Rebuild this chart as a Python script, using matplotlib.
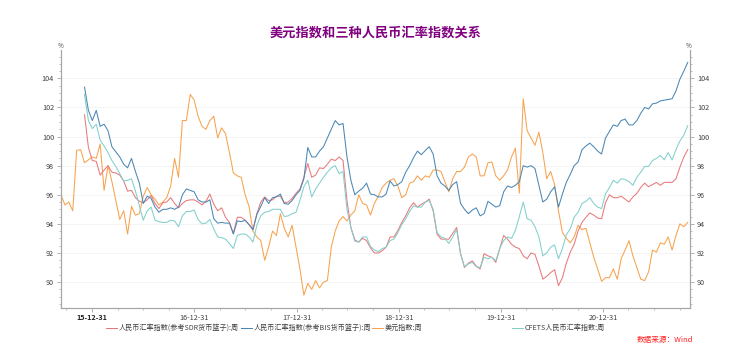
import matplotlib
matplotlib.use("Agg")
import matplotlib.pyplot as plt
import matplotlib.dates as mdates
from matplotlib.ticker import MultipleLocator, FixedLocator, FixedFormatter
import numpy as np
import pandas as pd

plt.rcParams['font.family'] = ['Noto Sans CJK SC', 'DejaVu Sans']

# ---------------- data (biweekly) ----------------
start_date = '2015-09-11'
n_points = 161
nan = np.nan

usd_index = [
    96.0, 95.3, 95.5, 94.9, 99.05, 99.1, 98.2, 98.4, 98.6, 98.5,
    99.5, 96.3, 98.0, 96.9, 95.6, 94.3, 94.9, 93.3, 95.2, 94.6,
    94.7, 95.9, 96.5, 96.0, 95.7, 95.3, 95.5, 95.8, 96.6, 98.5,
    97.2, 101.1, 101.1, 102.9, 102.5, 101.4, 100.7, 100.5, 101.1, 101.4,
    99.9, 100.6, 100.2, 98.9, 97.5, 97.3, 97.2, 96.0, 95.2, 93.5,
    93.1, 92.85, 91.5, 92.4, 93.5, 93.2, 94.7, 93.7, 93.1, 93.9,
    92.4, 90.9, 89.1, 89.9, 89.5, 90.1, 89.6, 90.0, 90.1, 92.4,
    93.5, 94.2, 94.5, 94.2, 94.6, 94.9, 96.0, 95.4, 95.3, 94.6,
    95.4, 95.9, 96.5, 96.8, 97.0, 97.1, 96.6, 95.8, 96.0, 96.8,
    96.9, 97.3, 97.0, 97.3, 97.2, 97.7, 97.7, 97.6, 96.9, 96.2,
    97.1, 97.6, 97.6, 97.9, 98.6, 98.8, 98.6, 97.3, 97.3, 98.2,
    98.25, 97.3, 97.0, 97.3, 97.7, 98.6, 99.2, 96.1, 102.6, 100.4,
    99.9, 99.4, 100.3, 98.9, 97.1, 97.6, 96.7, 94.9, 93.4, 93.0,
    92.7, 93.1, 93.9, 93.6, 93.7, 92.7, 91.7, 90.9, 90.05, 90.3,
    90.3, 90.9, 90.2, 91.6, 92.2, 92.85, 91.8, 91.0, 90.2, 90.1,
    90.7, 92.2, 92.05, 92.7, 92.6, 93.1, 92.2, 93.2, 94.0, 93.8,
    94.1,
]

rmb_bis = [nan] * 6 + [
    103.4, 101.8, 101.1, 101.8,
    100.7, 100.85, 100.4, 99.3, 98.95, 98.6, 98.1, 97.85, 98.5, 97.6,
    96.8, 95.4, 95.9, 95.75, 95.15, 94.8, 95.0, 95.0, 95.1, 95.0,
    95.15, 96.0, 96.4, 96.3, 96.2, 95.65, 95.5, 95.5, 95.65, 94.35,
    94.05, 94.1, 94.05, 94.05, 93.3, 94.2, 94.15, 94.25, 93.95, 93.6,
    94.65, 95.2, 95.8, 95.4, 95.8, 95.85, 96.05, 95.4, 95.35, 95.6,
    96.0, 96.3, 97.1, 99.25, 98.6, 98.6, 99.0, 99.3, 99.9, 100.5,
    101.1, 100.8, 100.9, 98.6, 97.0, 96.0, 96.25, 96.45, 96.8, 96.05,
    96.0, 95.85, 95.85, 96.05, 96.95, 96.6, 96.7, 96.9, 97.55, 98.0,
    98.55, 99.0, 98.75, 99.05, 99.3, 98.8, 97.3, 96.8, 96.6, 96.3,
    96.7, 96.9, 95.4, 95.0, 94.7, 94.95, 95.1, 94.55, 94.7, 95.55,
    95.35, 95.15, 95.25, 96.2, 96.6, 96.5, 96.65, 96.9, 98.0, 97.9,
    98.0, 97.8, 96.65, 95.5, 95.7, 96.2, 96.55, 95.15, 96.05, 96.85,
    97.4, 98.0, 98.25, 99.1, 99.35, 99.55, 99.3, 99.0, 98.8, 99.9,
    100.35, 100.8, 100.7, 101.1, 101.2, 100.8, 100.8, 101.1, 101.6, 102.0,
    101.9, 102.25, 102.3, 102.45, 102.5, 102.55, 102.6, 103.15, 103.95, 104.5,
    105.1,
]

rmb_cfets = [nan] * 6 + [
    102.9, 101.1, 100.55, 100.85,
    99.75, 99.35, 98.9, 98.35, 97.95, 97.45, 96.95, 97.0, 97.1, 96.25,
    95.25, 94.25, 94.9, 95.15, 94.25, 94.15, 94.1, 94.1, 94.25, 94.2,
    93.8, 94.55, 94.85, 94.85, 94.95, 94.3, 94.0, 94.05, 94.3, 93.65,
    93.1, 93.05, 92.95, 92.65, 92.3, 93.2, 93.3, 93.3, 93.1, 92.75,
    93.9, 94.55, 94.8, 94.85, 95.0, 95.0, 95.0, 94.5, 94.55, 94.7,
    94.8, 95.6, 96.55, 97.0, 95.85, 96.4, 96.8, 97.2, 97.55, 97.85,
    98.0, 97.45, 97.6, 95.0, 93.75, 92.8, 92.75, 93.1, 93.1, 92.45,
    92.2, 92.1, 92.3, 92.4, 92.85, 92.95, 93.4, 93.95, 94.35, 94.85,
    95.25, 95.15, 95.15, 95.5, 95.6, 95.0, 93.4, 93.1, 93.0, 92.65,
    93.1, 93.6, 91.95, 91.05, 91.25, 91.35, 91.05, 91.0, 91.7, 91.6,
    91.7, 91.45, 92.3, 92.85, 93.1, 93.0, 93.55, 94.5, 95.5, 94.35,
    94.25, 93.8, 93.1, 91.8, 92.0, 92.4, 92.55, 91.6, 92.3, 93.25,
    93.65, 94.45, 94.8, 95.4, 95.55, 95.8, 95.4, 95.15, 95.05, 96.05,
    96.5, 97.0, 96.8, 97.1, 97.05, 96.9, 96.65, 97.2, 97.55, 97.95,
    97.95, 98.35, 98.5, 98.7, 98.4, 98.9, 98.4, 99.1, 99.7, 100.1,
    100.75,
]

rmb_sdr = [nan] * 6 + [
    101.5, 99.25, 98.35, 98.3,
    97.35, 97.7, 98.0, 97.55, 97.5, 97.35, 96.95, 96.25, 96.3, 95.8,
    95.55, 95.45, 95.65, 95.95, 95.4, 95.05, 95.45, 95.5, 95.8, 95.4,
    95.1, 95.4, 95.6, 95.65, 95.65, 95.5, 95.3, 95.55, 96.05, 95.35,
    94.9, 95.1, 94.45, 94.1, 93.35, 94.45, 94.45, 94.25, 93.95, 93.6,
    94.7, 95.5, 95.85, 95.6, 95.65, 95.9, 95.9, 95.45, 95.5, 95.75,
    96.1, 96.4, 97.2, 98.15, 97.2, 97.35, 97.85, 97.8, 98.1, 98.45,
    98.35, 98.6, 98.35, 95.6, 93.75, 92.9, 92.75, 93.0, 92.85, 92.35,
    92.0, 92.0, 92.15, 92.4, 93.1, 93.1, 93.55, 94.1, 94.55, 95.1,
    95.45, 95.15, 95.35, 95.5, 95.7, 94.9, 93.3, 92.95, 92.95, 92.95,
    93.35, 93.75, 91.95, 91.0, 91.3, 91.45, 91.1, 90.9, 91.95, 91.8,
    91.7, 91.35, 92.3, 93.2, 92.95, 92.6, 92.4, 92.3, 91.8, 91.6,
    92.0, 91.9, 91.1, 90.2, 90.4, 90.65, 90.85, 89.75, 90.3, 91.3,
    92.05, 92.6, 93.5, 94.1, 94.45, 94.75, 94.6, 94.4, 94.35, 95.45,
    96.0, 95.8, 95.8, 95.9, 95.7, 95.5, 95.85, 96.1, 96.5, 96.8,
    96.55, 96.7, 96.85, 96.65, 96.85, 96.85, 96.85, 97.1, 97.9, 98.6,
    99.1,
]

series_names = [
    '人民币汇率指数(参考SDR货币篮子):周',
    '人民币汇率指数(参考BIS货币篮子):周',
    '美元指数:周',
    'CFETS人民币汇率指数:周',
]
series_colors = ['#E8797B', '#4A87B5', '#F7A24E', '#82CFCC']
x_tick_labels = ['15-12-31', '16-12-31', '17-12-31', '18-12-31', '19-12-31', '20-12-31']
y_ticks = [90, 92, 94, 96, 98, 100, 102, 104]
title = '美元指数和三种人民币汇率指数关系'
source = '数据来源：Wind'

# ---------------- figure ----------------
W, H = 735, 356
fig = plt.figure(figsize=(W / 100, H / 100), dpi=100)
L, R, B, T = 61, 690, 307.5, 50
ax = fig.add_axes([L / W, 1 - B / H, (R - L) / W, (B - T) / H])

dates = pd.date_range(start_date, periods=n_points, freq='14D')
values = [rmb_sdr, rmb_bis, usd_index, rmb_cfets]
zorders = [3, 4, 2, 3]
lines = []
for name, col, vals, z in zip(series_names, series_colors, values, zorders):
    ln, = ax.plot(dates, vals, color=col, lw=0.75, label=name, zorder=z)
    lines.append(ln)

ax.set_xlim(pd.Timestamp('2015-09-11'), pd.Timestamp('2021-11-06'))
ylim = (88.25, 105.95)
ax.set_ylim(*ylim)

axis_col = '#A6A6A6'
text_col = '#404040'

# y axes
ax.yaxis.set_major_locator(FixedLocator(y_ticks))
ax.yaxis.set_minor_locator(MultipleLocator(0.5))
ax.grid(axis='y', which='major', color='#F3F3F3', lw=0.6, zorder=0)
ax.set_axisbelow(True)

ax2 = ax.twinx()
ax2.set_ylim(*ylim)
ax2.yaxis.set_major_locator(FixedLocator(y_ticks))
ax2.yaxis.set_minor_locator(MultipleLocator(0.5))

for a in (ax, ax2):
    a.spines['top'].set_visible(False)
    for s in ('left', 'right', 'bottom'):
        a.spines[s].set_color(axis_col)
        a.spines[s].set_linewidth(0.8)
    a.tick_params(axis='y', which='major', length=3, width=0.6, color=axis_col,
                  labelsize=5.2, labelcolor=text_col, pad=2)
    a.tick_params(axis='y', which='minor', length=1.5, width=0.5, color=axis_col)

# x axis
tick_dates = pd.to_datetime(x_tick_labels, format='%y-%m-%d')
ax.xaxis.set_major_locator(FixedLocator(mdates.date2num(tick_dates)))
ax.xaxis.set_major_formatter(FixedFormatter(x_tick_labels))
ax.xaxis.set_minor_locator(mdates.MonthLocator(bymonth=(3, 6, 9, 12), bymonthday=-1))
ax.tick_params(axis='x', which='major', length=3, width=0.6, color=axis_col,
               labelsize=5.2, labelcolor=text_col, pad=2)
ax.tick_params(axis='x', which='minor', length=1.5, width=0.5, color=axis_col)
for lbl in ax.get_xticklabels()[:1]:
    lbl.set_fontweight('bold')
    lbl.set_color('#202020')

# % markers
fig.text(L / W, 1 - 46 / H, '%', fontsize=4.5, color=text_col, ha='center', va='center')
fig.text(R / W - 0.002, 1 - 46 / H, '%', fontsize=4.5, color=text_col, ha='center', va='center')

# title
fig.text(376 / W, 1 - 33 / H, title, fontsize=9.5, fontweight='bold', color='#800080',
         ha='center', va='center')

# legend (four entries spaced like the reference)
legend_x = [106, 241, 372, 512]
for ln, lx in zip(lines, legend_x):
    fig.legend(handles=[ln], loc='center left', bbox_to_anchor=(lx / W, 1 - 328 / H),
               frameon=False, fontsize=5.1, handlelength=1.5, handletextpad=0.35,
               borderpad=0, borderaxespad=0, labelcolor=text_col)

# source
fig.text(693 / W, 1 - 340 / H, source, fontsize=5.5, color='#FF2020', style='italic',
         ha='right', va='center')

fig.savefig('out.png', dpi=100)
